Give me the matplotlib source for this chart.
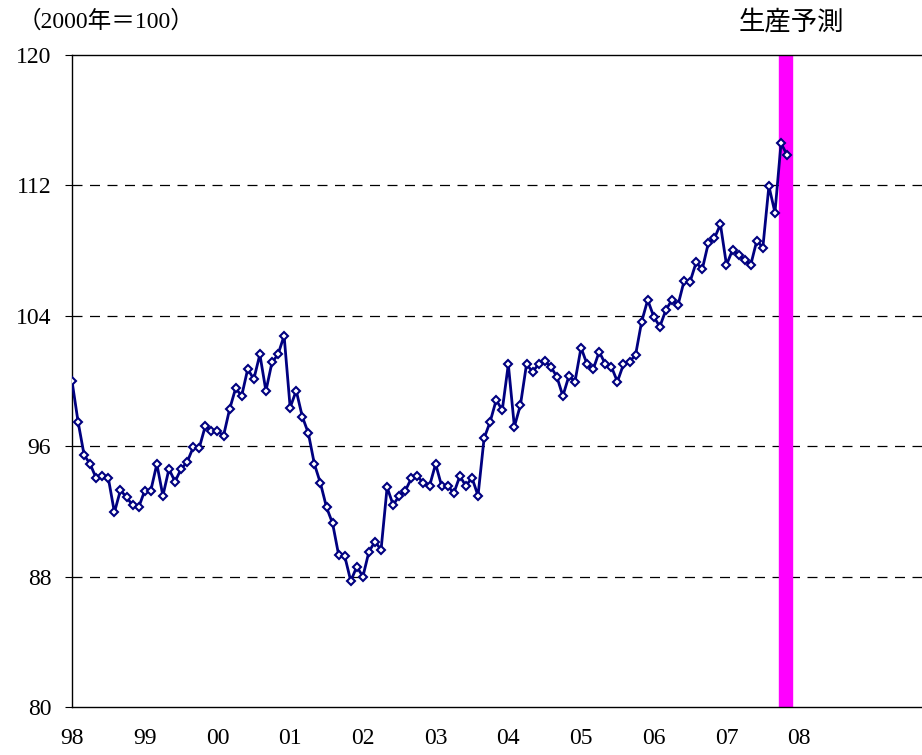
import numpy as np
import matplotlib
matplotlib.use("Agg")
import matplotlib.pyplot as plt

plt.rcParams['font.family'] = ['Liberation Serif', 'Noto Sans CJK JP']

# monthly index (2000 = 100), Jan 1998 .. Nov 2007
values = [
    100.0, 97.5, 95.46, 94.9, 94.03, 94.17, 94.03, 91.94, 93.31, 92.86, 92.39, 92.25,
    93.27, 93.27, 94.91, 92.96, 94.6, 93.83, 94.6, 95.03, 95.93, 95.9, 97.24, 96.94,
    96.95, 96.63, 98.26, 99.55, 99.09, 100.74, 100.11, 101.63, 99.39, 101.14, 101.63, 102.78,
    98.37, 99.41, 97.82, 96.8, 94.9, 93.73, 92.25, 91.27, 89.33, 89.26, 87.73, 88.61,
    88.0, 89.53, 90.15, 89.65, 93.48, 92.39, 92.96, 93.27, 94.03, 94.17, 93.72, 93.56,
    94.91, 93.56, 93.58, 93.11, 94.17, 93.56, 94.07, 92.96, 96.48, 97.5, 98.83, 98.22,
    101.02, 97.2, 98.53, 101.02, 100.57, 101.02, 101.2, 100.88, 100.27, 99.08, 100.31, 99.96,
    102.05, 101.02, 100.71, 101.8, 101.04, 100.88, 99.96, 101.02, 101.18, 101.6, 103.64, 104.97,
    103.95, 103.33, 104.36, 104.97, 104.66, 106.13, 106.1, 107.28, 106.85, 108.45, 108.75, 109.61,
    107.12, 108.04, 107.73, 107.42, 107.12, 108.61, 108.18, 111.96, 110.33, 114.58, 113.87,
]
year_labels = ['98', '99', '00', '01', '02', '03', '04', '05', '06', '07', '08']
y_ticks = [80, 88, 96, 104, 112, 120]
forecast_span = (116.7, 118.8)  # months covered by the forecast band

months = np.arange(len(values))

fig = plt.figure(figsize=(9.22, 7.55), dpi=100)
ax = fig.add_axes([72 / 922, 1 - 707 / 755, (922 - 72) / 922, (707 - 55) / 755])

ax.axvspan(*forecast_span, color='#FF00FF', zorder=1)
for y in y_ticks[1:-1]:
    ax.axhline(y, color='black', lw=0.9, ls=(0, (8, 6)), zorder=0)

ax.plot(months, values, color='#000080', lw=2, marker='D', ms=4.5,
        mfc='white', mec='#000080', mew=1.5, zorder=3)

ax.set_xlim(0, 850 / 6.06)
ax.set_ylim(80, 120)
ax.set_yticks(y_ticks)
ax.set_xticks(np.arange(0, 12 * len(year_labels), 12))
ax.set_xticklabels(year_labels)
ax.tick_params(axis='x', length=0, pad=15, labelsize=17)
ax.tick_params(axis='y', length=5, direction='out', pad=10, labelsize=17)
ax.spines['right'].set_visible(False)
for s in ['left', 'top', 'bottom']:
    ax.spines[s].set_linewidth(1.0)

fig.text(18 / 922, 1 - 22 / 755, '（2000年＝100）', fontsize=17, va='center', ha='left')
fig.text(791 / 922, 1 - 22 / 755, '生産予測', fontsize=19, va='center', ha='center',
         family=['Noto Sans CJK JP'])

fig.savefig('out.png', dpi=100)
